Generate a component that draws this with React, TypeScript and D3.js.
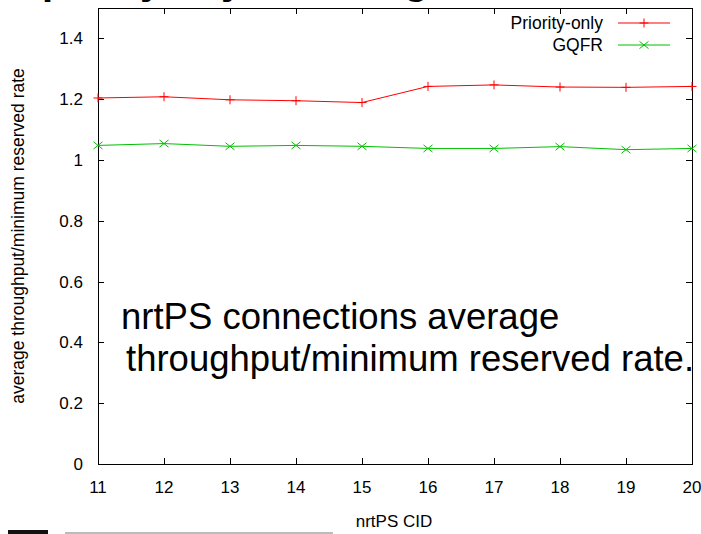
import React from "react";
import * as d3 from "d3";

const cids = [11, 12, 13, 14, 15, 16, 17, 18, 19, 20];
const priorityOnly = [1.204, 1.208, 1.198, 1.195, 1.189, 1.242, 1.247, 1.24, 1.239, 1.242];
const gqfr = [1.048, 1.054, 1.045, 1.048, 1.045, 1.038, 1.038, 1.044, 1.034, 1.038];
const yTicks = [0, 0.2, 0.4, 0.6, 0.8, 1, 1.2, 1.4];
const yTickLabels = ["0", "0.2", "0.4", "0.6", "0.8", "1", "1.2", "1.4"];
const seriesNames = ["Priority-only", "GQFR"];
const seriesColors = ["#ff0000", "#00c000"];

const W = 701;
const H = 534;
const left = 98;
const right = 692;
const top = 8;
const bottom = 464;
const font = "'Liberation Sans', Arial, sans-serif";

export default function App() {
  const x = d3.scaleLinear().domain([11, 20]).range([left, right]);
  const y = d3.scaleLinear().domain([0, 1.5]).range([bottom, top]);
  const line = d3
    .line<number>()
    .x((_, i) => x(cids[i]))
    .y((d) => y(d));
  const series = [priorityOnly, gqfr];
  const tl = 6;
  const ms = 4.5;

  const plusMarker = (cx: number, cy: number, c: string, k: string) => (
    <path key={k} d={`M${cx - ms},${cy}H${cx + ms}M${cx},${cy - ms}V${cy + ms}`} stroke={c} strokeWidth={1} fill="none" />
  );
  const crossMarker = (cx: number, cy: number, c: string, k: string) => (
    <path key={k} d={`M${cx - ms},${cy - ms * 0.8}L${cx + ms},${cy + ms * 0.8}M${cx - ms},${cy + ms * 0.8}L${cx + ms},${cy - ms * 0.8}`} stroke={c} strokeWidth={1} fill="none" />
  );
  const markers = [plusMarker, crossMarker];

  return (
    <svg width={W} height={H} style={{ position: "absolute", left: 0, top: 0, background: "#fff" }} fontFamily={font}>
      <rect x={0} y={0} width={W} height={H} fill="#fff" />
      {/* cut-off slide title fragments */}
      <g fontSize={40} fill="#000" fontWeight="bold">
        <text x={42} y={-6}>p</text>
        <text x={140} y={-6}>y</text>
        <text x={221} y={-6}>y</text>
        <text x={404} y={-6}>g</text>
      </g>
      {/* cut-off bottom fragments */}
      <rect x={8} y={530} width={40} height={4} fill="#111" />
      <rect x={65} y={532} width={268} height={2} fill="#bbb" />

      {/* ticks and frame */}
      <g stroke="#000" strokeWidth={1}>
        {yTicks.map((t, i) => (
          <g key={"yt" + i}>
            <line x1={left} x2={left + tl} y1={Math.round(y(t)) + 0.5} y2={Math.round(y(t)) + 0.5} />
            <line x1={right} x2={right - tl} y1={Math.round(y(t)) + 0.5} y2={Math.round(y(t)) + 0.5} />
          </g>
        ))}
        {cids.map((c, i) => (
          <g key={"xt" + i}>
            <line x1={Math.round(x(c)) + 0.5} x2={Math.round(x(c)) + 0.5} y1={bottom} y2={bottom - tl} />
            <line x1={Math.round(x(c)) + 0.5} x2={Math.round(x(c)) + 0.5} y1={top} y2={top + tl} />
          </g>
        ))}
        <rect x={left + 0.5} y={top + 0.5} width={right - left} height={bottom - top} fill="none" />
      </g>

      {/* tick labels */}
      <g fontSize={17} fill="#000">
        {yTicks.map((t, i) => (
          <text key={"yl" + i} x={left - 15} y={y(t)} dy="0.35em" textAnchor="end">
            {yTickLabels[i]}
          </text>
        ))}
        {cids.map((c, i) => (
          <text key={"xl" + i} x={x(c)} y={bottom + 29} textAnchor="middle">
            {c}
          </text>
        ))}
      </g>
      <text x={394} y={527} fontSize={17} textAnchor="middle" fill="#000">nrtPS CID</text>
      <text transform={`translate(24,${(top + bottom) / 2}) rotate(-90)`} fontSize={17.5} textAnchor="middle" fill="#000">
        average throughput/minimum reserved rate
      </text>

      {/* series */}
      {series.map((s, si) => (
        <g key={"s" + si}>
          <path d={line(s) || ""} fill="none" stroke={seriesColors[si]} strokeWidth={1} />
          {s.map((v, i) => markers[si](x(cids[i]), y(v), seriesColors[si], `m${si}-${i}`))}
        </g>
      ))}

      {/* legend */}
      {seriesNames.map((n, i) => {
        const ly = 23 + i * 22;
        return (
          <g key={"lg" + i}>
            <text x={603} y={ly} dy="0.35em" textAnchor="end" fontSize={17.5} fill="#000">{n}</text>
            <line x1={618} x2={670} y1={ly} y2={ly} stroke={seriesColors[i]} strokeWidth={1} />
            {markers[i](644, ly, seriesColors[i], "lm" + i)}
          </g>
        );
      })}

      {/* overlay annotation */}
      <g fontSize={36.5} fill="#000">
        <text x={121} y={329}>nrtPS connections average</text>
        <text x={126} y={371}>throughput/minimum reserved rate.</text>
      </g>
    </svg>
  );
}
